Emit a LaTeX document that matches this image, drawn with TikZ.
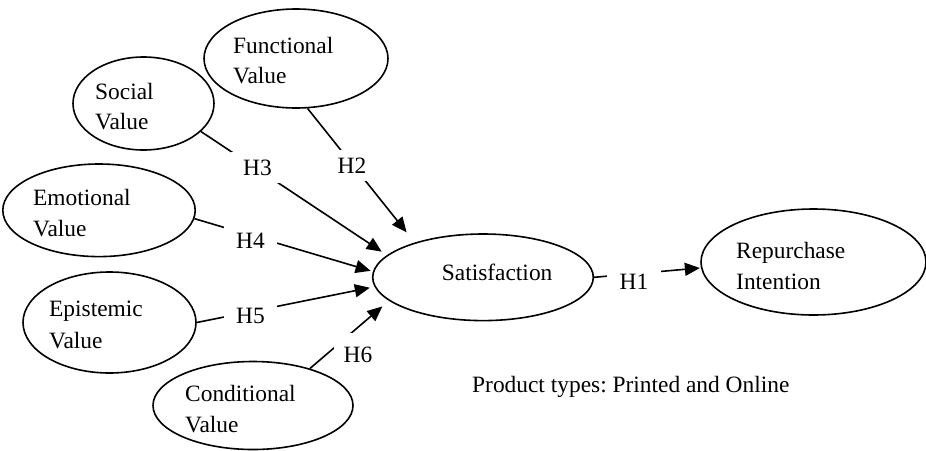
\documentclass[tikz,border=0pt]{standalone}
\usepackage{fontspec}
\setmainfont{Liberation Serif}
\usetikzlibrary{shapes.geometric,arrows.meta}
\frenchspacing
\begin{document}
\begin{tikzpicture}[x=1pt,y=-1pt,
  construct/.style={draw, ellipse, inner sep=0pt, line width=1.6pt},
  caption/.style={anchor=base west, inner sep=0pt, font=\fontsize{23.4}{28}\selectfont},
  hyp/.style={anchor=base, fill=white, inner xsep=12.5pt, inner ysep=7.5pt,
              font=\fontsize{23.4}{28}\selectfont},
  hypline/.style={line width=1.6pt, -{Triangle[length=15pt,width=13pt]}}]
\useasboundingbox (0,0) rectangle (926,450);

% constructs
\node[construct, minimum width=184pt,   minimum height=99pt]   (fun) at (296,58.5)   {};
\node[construct, minimum width=141pt,   minimum height=93pt]   (soc) at (143.5,103.5) {};
\node[construct, minimum width=192.4pt, minimum height=92.6pt] (emo) at (99,210.3)   {};
\node[construct, minimum width=173pt,   minimum height=101pt]  (epi) at (109.5,322.5) {};
\node[construct, minimum width=200pt,   minimum height=88pt]   (con) at (253,405.5)  {};
\node[construct, minimum width=220.6pt, minimum height=86.6pt] (sat) at (483,277.3)  {};
\node[construct, minimum width=225pt,   minimum height=106pt]  (rep) at (813.5,262)  {};

% construct names
\node[caption] (funA) at (233,53)    {Functional};
\node[caption] (funB) at (233,83)    {Value};
\node[caption] (socA) at (95,99.3)   {Social};
\node[caption] (socB) at (95,129.3)  {Value};
\node[caption] (emoA) at (33,205)    {Emotional};
\node[caption] (emoB) at (33,236)    {Value};
\node[caption] (epiA) at (49,316.7)  {Epistemic};
\node[caption] (epiB) at (49,348)    {Value};
\node[caption] (conA) at (185,401.7) {Conditional};
\node[caption] (conB) at (185,432.7) {Value};
\node[caption] (satA) at (441.7,280) {Satisfaction};
\node[caption] (repA) at (736,258)   {Repurchase};
\node[caption] (repB) at (736,289)   {Intention};
\node[caption] (note) at (472,392.7) {Product types: Printed and Online};

% hypothesised paths
\draw[hypline, shorten >=13pt]  (fun.-77)   -- (sat.153.3);
\draw[hypline, shorten >=6.3pt] (soc.-26)   -- (sat.167.9);
\draw[hypline, shorten >=2.4pt] (emo.-5.8)  -- (sat.177.6);
\draw[hypline, shorten >=4.8pt] (epi.-0.5)  -- (sat.185.4);
\draw[hypline, shorten >=8.7pt] (con.33.5)  -- (sat.194.6);
\draw[hypline, shorten >=1pt]   (sat.-0.5)  -- (rep.183.2);

% hypothesis labels
\node[hyp] (h1) at (634,289)   {H1};
\node[hyp] (h2) at (352,173)   {H2};
\node[hyp] (h3) at (257.5,175) {H3};
\node[hyp] (h4) at (250.5,248) {H4};
\node[hyp] (h5) at (250.5,323) {H5};
\node[hyp, inner xsep=10pt, inner ysep=14pt] (h6) at (358,362) {H6};
\end{tikzpicture}
\end{document}
